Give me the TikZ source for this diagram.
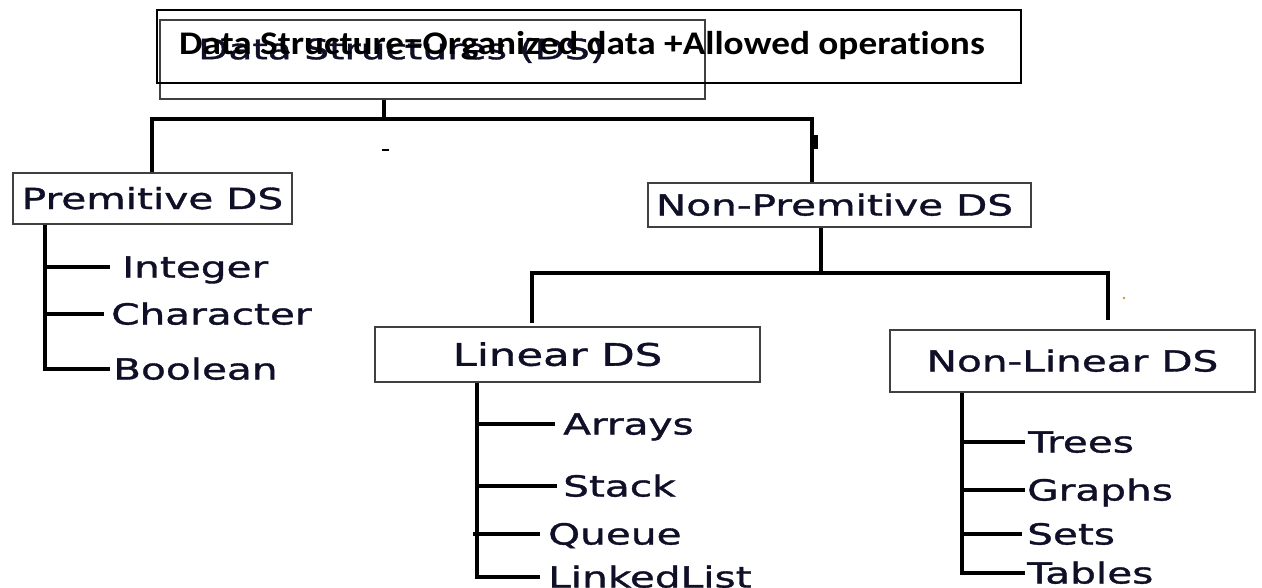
\documentclass[tikz,border=0pt]{standalone}
\usepackage{fontspec}
\newfontfamily\lblfont[FakeStretch=1.4,FakeBold=1.2]{DejaVu Sans}
\newfontfamily\titlefont[FakeStretch=1.13,Ligatures=NoCommon]{Carlito}
\definecolor{ink}{RGB}{15,15,40}
\definecolor{boxline}{RGB}{64,64,64}
\definecolor{speck}{RGB}{215,140,60}
\begin{document}
\begin{tikzpicture}[x=1pt,y=-1pt,
  lbl/.style={font=\lblfont\fontsize{29}{29}\selectfont, text=ink, inner sep=0pt,
              text height=21pt, text depth=0pt, anchor=west},
  dsbox/.style={draw=boxline, line width=2pt, inner sep=0pt,
              font=\lblfont\fontsize{29}{29}\selectfont, text=ink,
              text height=21pt, text depth=0pt},
  frame/.style={draw=black, line width=2.2pt, inner sep=0pt},
  conn/.style={line width=4.8pt, line join=miter}]
\useasboundingbox (0,0) rectangle (1262,587);

% top boxes
\node[draw=boxline, line width=1.8pt, minimum width=545pt, minimum height=79pt, inner sep=0pt] (dsin) at (432.5,59.5) {};
\node[font=\lblfont\fontsize{28}{28}\selectfont, text=ink, inner sep=0pt, text height=20.4pt, text depth=0pt, anchor=west] (dsname) at (198,49) {Data Structures (DS)};
\node[frame, minimum width=864pt, minimum height=73pt] (dsout) at (589,46.5) {};
\node[font=\titlefont\bfseries\fontsize{33}{33}\selectfont, text=black, inner sep=0pt, text height=21.3pt, text depth=0pt, anchor=west] (title) at (179,44) {Data Structure=Organized data +Allowed operations};

% category boxes
\node[dsbox, minimum width=279pt, minimum height=51pt] (prim) at (152.5,198.5) {Premitive DS};
\node[dsbox, minimum width=383pt, minimum height=44pt] (np) at (839.5,205) {\hspace*{-10pt}Non-Premitive DS};
\node[dsbox, minimum width=385pt, minimum height=55pt, font=\lblfont\fontsize{31}{31}\selectfont, text height=22.5pt] (lin) at (567.5,354.5) {\hspace*{-20pt}Linear DS};
\node[dsbox, minimum width=365pt, minimum height=62pt] (nlin) at (1072.5,361) {Non-Linear DS};

% leaf labels
\node[lbl] (int) at (122,267) {Integer};
\node[lbl] (chr) at (111,314) {Character};
\node[lbl] (bool) at (113,369) {Boolean};
\node[lbl] (arr) at (563,424) {Arrays};
\node[lbl] (stk) at (563,486) {Stack};
\node[lbl] (que) at (548,534) {Queue};
\node[lbl] (ll) at (548,577) {LinkedList};
\node[lbl] (tre) at (1028,442) {Trees};
\node[lbl] (gra) at (1027,490) {Graphs};
\node[lbl] (set) at (1027,534) {Sets};
\node[lbl] (tab) at (1027,573) {Tables};

% junction coordinates
\coordinate (a0) at (384,119);
\coordinate (a1) at (152,119);
\coordinate (a2) at (812,119);
\coordinate (b0) at (821,273);
\coordinate (b1) at (532,273);
\coordinate (b2) at (1108,273);
\coordinate (b1e) at (532,323);
\coordinate (b2e) at (1108,320);
\coordinate (p3) at (45,369);
\coordinate (l4) at (477,577);
\coordinate (n4) at (962,573);

% connectors
\draw[conn] (dsin.south -| a0) -- (a0);
\draw[conn] (prim.north -| a1) -- (a1) -- (a2) -- (np.north -| a2);
\draw[conn] (np.south -| b0) -- (b0);
\draw[conn] (b1e) -- (b1) -- (b2) -- (b2e);

\draw[conn] (prim.south -| p3) -- (p3) -- ([xshift=-3pt]bool.west);
\draw[conn] (int.west -| p3) -- ([xshift=-12pt]int.west);
\draw[conn] (chr.west -| p3) -- ([xshift=-7pt]chr.west);

\draw[conn] (lin.south -| l4) -- (l4) -- ([xshift=-8pt]ll.west);
\draw[conn] (arr.west -| l4) -- ([xshift=-8pt]arr.west);
\draw[conn] (stk.west -| l4) -- ([xshift=-6pt]stk.west);
\draw[conn] ([xshift=-4pt]que.west -| l4) -- ([xshift=-8pt]que.west);

\draw[conn] (nlin.south -| n4) -- (n4) -- ([xshift=-2pt]tab.west);
\draw[conn] (tre.west -| n4) -- ([xshift=-3pt]tre.west);
\draw[conn] (gra.west -| n4) -- ([xshift=-2pt]gra.west);
\draw[conn] (set.west -| n4) -- ([xshift=-5pt]set.west);

% stray marks of the original
\draw[line width=1.8pt] (382,150) -- (389,150);
\fill (813,135) rectangle (818,149);
\fill[speck] (1124,298) circle (1.3pt);
\end{tikzpicture}
\end{document}
